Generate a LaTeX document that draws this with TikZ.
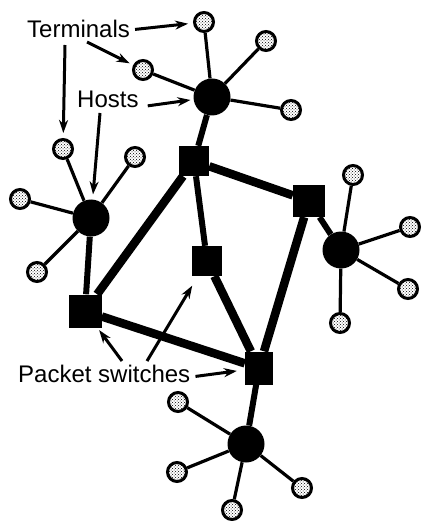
\documentclass[tikz,border=0pt]{standalone}
\usepackage{fontspec}
\setmainfont{Liberation Sans}
\usetikzlibrary{arrows.meta,patterns,backgrounds}

\begin{document}
\begin{tikzpicture}[x=1pt,y=-1pt,>={Stealth[length=13pt,width=9pt]},
    term/.style={circle,draw,line width=3pt,minimum size=19pt,inner sep=0pt,pattern=crosshatch dots},
    host/.style={circle,fill=black,minimum size=37pt,inner sep=0pt},
    pswitch/.style={rectangle,fill=black,minimum size=30pt,inner sep=0pt},
    lbl/.style={font=\fontsize{24}{28}\selectfont,inner sep=0pt,anchor=base west},
    tlink/.style={line width=3.2pt},
    hlink/.style={line width=6pt},
    slink/.style={line width=8.5pt},
    ptr/.style={->,line width=3pt}]
    \useasboundingbox (0,0) rectangle (422,521);
    \node[host] (h1) at (212,97) {};
    \node[host] (h2) at (91,218) {};
    \node[host] (h3) at (341,250) {};
    \node[host] (h4) at (246,444) {};
    \node[pswitch] (s1) at (194,161) {};
    \node[pswitch,minimum size=32pt] (s2) at (309,201) {};
    \node[pswitch] (s3) at (207,261) {};
    \node[pswitch,minimum size=33pt] (s4) at (85,311) {};
    \node[pswitch,minimum width=28pt,minimum height=33pt] (s5) at (259,368) {};
    \node[term] (t11) at (204,22) {};
    \node[term] (t12) at (143,70) {};
    \node[term] (t13) at (266,41) {};
    \node[term] (t14) at (291,110) {};
    \node[term] (t21) at (63,149) {};
    \node[term] (t22) at (135,157) {};
    \node[term] (t23) at (20,199) {};
    \node[term] (t24) at (37,272) {};
    \node[term] (t31) at (353,175) {};
    \node[term] (t32) at (410,227) {};
    \node[term] (t33) at (408,289) {};
    \node[term] (t34) at (340,323) {};
    \node[term] (t41) at (178,402) {};
    \node[term] (t42) at (177,472) {};
    \node[term] (t43) at (232,510) {};
    \node[term] (t44) at (302,488) {};
    \node[lbl] (lterm) at (27,38) {Terminals};
    \node[lbl] (lhost) at (77,108) {Hosts};
    \node[lbl] (lpack) at (18,382) {Packet switches};
    \begin{scope}[on background layer]
        \draw[tlink] (h1) -- (t11);
        \draw[tlink] (h1) -- (t12);
        \draw[tlink] (h1) -- (t13);
        \draw[tlink] (h1) -- (t14);
        \draw[tlink] (h2) -- (t21);
        \draw[tlink] (h2) -- (t22);
        \draw[tlink] (h2) -- (t23);
        \draw[tlink] (h2) -- (t24);
        \draw[tlink] (h3) -- (t31);
        \draw[tlink] (h3) -- (t32);
        \draw[tlink] (h3) -- (t33);
        \draw[tlink] (h3) -- (t34);
        \draw[tlink] (h4) -- (t41);
        \draw[tlink] (h4) -- (t42);
        \draw[tlink] (h4) -- (t43);
        \draw[tlink] (h4) -- (t44);
        \draw[hlink] (h1) -- (s1);
        \draw[hlink] (h2) -- (s4);
        \draw[hlink] (h3) -- (s2);
        \draw[hlink] (h4) -- (s5);
        \draw[slink] (s1) -- (s2);
        \draw[hlink] (s1) -- (s3);
        \draw[slink] (s1) -- (s4);
        \draw[slink] (s4) -- (s5);
        \draw[slink] (s3) -- (s5);
        \draw[slink] (s2) -- (s5);
    \end{scope}
    \draw[ptr,shorten >=5pt] ([xshift=5pt]lterm.east) -- (t11);
    \draw[ptr,shorten >=4pt] ([xshift=60pt,yshift=-4pt]lterm.base west) -- (t12);
    \draw[ptr,shorten >=5pt] ([xshift=38pt,yshift=-7pt]lterm.base west) -- (t21);
    \draw[ptr,shorten >=3pt] ([xshift=9pt,yshift=-6pt]lhost.east) -- (h1);
    \draw[ptr,shorten >=5pt] ([xshift=23pt,yshift=-5pt]lhost.base west) -- (h2);
    \draw[ptr,shorten >=8pt] ([xshift=5pt,yshift=-3pt]lpack.east) -- (s5);
    \draw[ptr,shorten >=3pt] ([xshift=104pt,yshift=21pt]lpack.base west) -- (s4);
    \draw[ptr,shorten >=11pt] ([xshift=129pt,yshift=21pt]lpack.base west) -- (s3);
\end{tikzpicture}
\end{document}
